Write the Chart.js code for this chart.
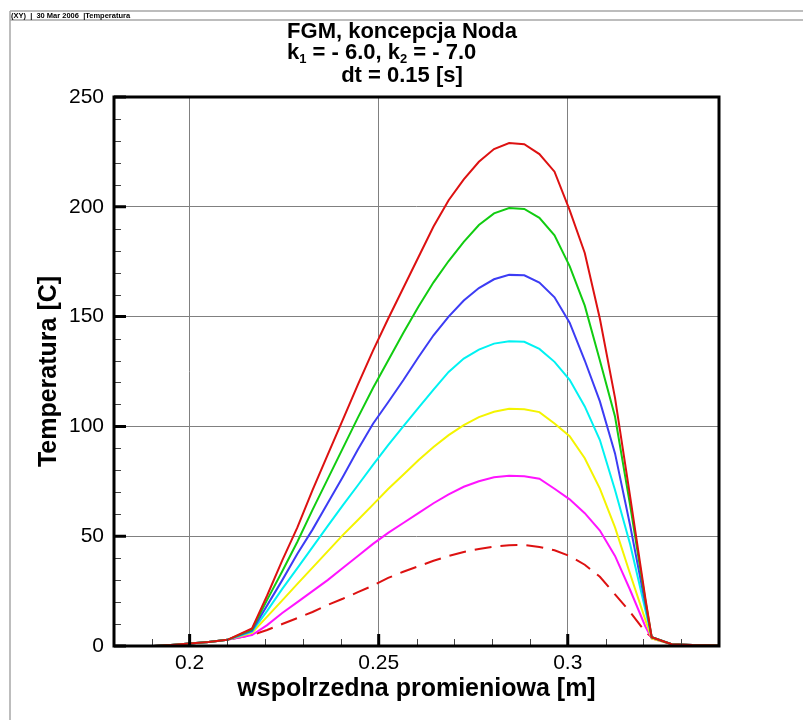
<!DOCTYPE html>
<html>
<head>
<meta charset="utf-8">
<title>Temperatura</title>
<script src="https://cdn.jsdelivr.net/npm/chart.js@4.4.0/dist/chart.umd.min.js"></script>
<style>
  html, body { margin: 0; padding: 0; background: #fff; }
  #wrap { position: relative; width: 803px; height: 720px; }
</style>
</head>
<body>
<div id="wrap"><canvas id="tempChart"></canvas></div>
<script>
const FONT = '"Liberation Sans", Arial, Helvetica, sans-serif';

// wspolrzedna promieniowa [m]
const radius = [0.1905, 0.195, 0.2, 0.205, 0.21,
  0.2165, 0.2205, 0.2245, 0.2285, 0.2325, 0.2365, 0.2405, 0.2445, 0.2485, 0.2525,
  0.2565, 0.2605, 0.2645, 0.2685, 0.2725, 0.2765, 0.2805, 0.2845, 0.2885, 0.2925,
  0.2965, 0.3005, 0.3045, 0.3085, 0.3125, 0.3165, 0.3205,
  0.3222, 0.3275, 0.333, 0.34];

// temperatura [C], kolejne kroki czasowe
const temp1 = [0, 0.4, 1.1, 1.8, 2.8,
  5, 7.3, 10, 12.7, 15.5, 18.7, 21.5, 24.5, 27.5, 31,
  33.8, 36.3, 38.8, 41, 42.8, 44.2, 45.3, 45.9, 46, 45.1,
  43.6, 41, 37, 31.5, 23.5, 15.5, 6.5,
  4, 0.8, 0.4, 0.2];
const temp2 = [0, 0.4, 1.1, 1.8, 2.8,
  5, 9.5, 15, 20, 25, 30, 35.5, 41, 46.5, 51.5,
  56, 60.5, 65, 69, 72.5, 75, 76.8, 77.5, 77.3, 76.2,
  71.6, 66.8, 60.5, 52.6, 41, 25.5, 9,
  3.5, 0.8, 0.4, 0.2];
const temp3 = [0, 0.4, 1.1, 1.8, 2.8,
  6, 13.4, 20.8, 28.3, 35.7, 43.1, 50.5, 57.4, 64.4, 71.5,
  78, 84.6, 90.6, 96, 100.6, 104.2, 106.7, 108, 107.8, 106.5,
  101.3, 95.5, 85.5, 71.7, 54, 32.8, 12,
  3.5, 0.8, 0.4, 0.2];
const temp4 = [0, 0.4, 1.1, 1.8, 2.8,
  6.5, 16, 26, 35.5, 45, 54.6, 64, 73.2, 82.5, 91.5,
  100, 108.4, 116.7, 124.8, 130.9, 135, 137.7, 138.8, 138.5, 135.3,
  129.4, 121.2, 109.1, 93.8, 71, 46.3, 16.6,
  4, 0.8, 0.4, 0.2];
const temp5 = [0, 0.4, 1.1, 1.8, 2.8,
  7, 18.5, 30, 42, 53, 65, 77, 89.5, 101.2, 111,
  121, 131.5, 141.5, 150, 157.3, 163, 167, 169, 168.8, 165.5,
  158.8, 147.2, 130, 111.4, 87.7, 54.9, 19.3,
  4, 0.8, 0.4, 0.2];
const temp6 = [0, 0.4, 1.1, 1.8, 2.8,
  7.5, 21, 34, 47.5, 62, 76, 90, 104, 117.5, 130,
  142.5, 154.5, 165.6, 175.3, 184, 191.7, 197, 199.4, 199, 195,
  187, 173, 155, 130, 104.5, 64, 21,
  4, 0.8, 0.4, 0.2];
const temp7 = [0, 0.4, 1.1, 1.8, 2.8,
  8, 23, 39, 54, 71, 87, 103, 119, 134.5, 149,
  163, 177, 191, 203, 212.5, 220.5, 226.3, 229, 228.5, 224,
  216, 198.5, 179, 149, 113, 68, 22,
  4, 0.8, 0.4, 0.2];

const xTicks = [0.2, 0.25, 0.3];
const yTicks = [0, 50, 100, 150, 200, 250];
const xMinorStep = 0.01;
const yMinorStep = 10;

const headerText = '(XY)  |  30 Mar 2006  |Temperatura';
const titleLine1 = 'FGM, koncepcja Noda';
const titleLine2 = [['k'], ['1', true], [' = - 6.0, k'], ['2', true], [' = - 7.0']];
const titleLine3 = 'dt = 0.15 [s]';

function points(ys) {
  return ys.map((y, i) => ({ x: radius[i], y: y }));
}

function series(ys, color, dash) {
  return {
    data: points(ys),
    borderColor: color,
    borderWidth: 2,
    borderDash: dash || [],
    pointRadius: 0,
    tension: 0,
    fill: false
  };
}

// text with subscripts, drawn left to right from x
function drawRuns(ctx, runs, x, y) {
  runs.forEach(([txt, sub]) => {
    ctx.font = sub ? 'bold 13px ' + FONT : 'bold 22px ' + FONT;
    ctx.fillText(txt, x, sub ? y + 4 : y);
    x += ctx.measureText(txt).width;
  });
}

const framePlugin = {
  id: 'frame',
  beforeDraw(chart) {
    const ctx = chart.ctx;
    ctx.save();
    ctx.fillStyle = '#fff';
    ctx.fillRect(0, 0, chart.width, chart.height);

    // page header strip
    ctx.strokeStyle = '#a8a8a8';
    ctx.lineWidth = 1.5;
    ctx.beginPath();
    ctx.moveTo(10, 11); ctx.lineTo(chart.width, 11);
    ctx.moveTo(10, 20); ctx.lineTo(chart.width, 20);
    ctx.moveTo(10, 11); ctx.lineTo(10, chart.height);
    ctx.stroke();
    ctx.fillStyle = '#000';
    ctx.font = 'bold 7.5px ' + FONT;
    ctx.textBaseline = 'middle';
    ctx.textAlign = 'left';
    ctx.fillText(headerText, 11, 15.5);

    // title block
    ctx.textBaseline = 'alphabetic';
    ctx.font = 'bold 22px ' + FONT;
    ctx.textAlign = 'center';
    ctx.fillText(titleLine1, 402, 37.5);
    ctx.fillText(titleLine3, 402, 81.5);
    ctx.textAlign = 'left';
    drawRuns(ctx, titleLine2, 287, 58.5);
    ctx.restore();
  },
  afterDatasetsDraw(chart) {
    const { ctx, chartArea: a, scales: { x, y } } = chart;
    ctx.save();

    // minor ticks, pointing inward
    ctx.strokeStyle = '#444';
    ctx.lineWidth = 1;
    ctx.beginPath();
    for (let i = Math.ceil(x.min / xMinorStep); i * xMinorStep <= x.max; i++) {
      if (i % 5 === 0) continue;
      const px = Math.round(x.getPixelForValue(i * xMinorStep)) + 0.5;
      ctx.moveTo(px, a.bottom);
      ctx.lineTo(px, a.bottom - 7);
    }
    for (let v = y.min + yMinorStep; v < y.max; v += yMinorStep) {
      if (v % 50 === 0) continue;
      const py = Math.round(y.getPixelForValue(v)) + 0.5;
      ctx.moveTo(a.left, py);
      ctx.lineTo(a.left + 7, py);
    }
    ctx.stroke();

    // major ticks
    ctx.strokeStyle = '#000';
    ctx.lineWidth = 3;
    ctx.beginPath();
    xTicks.forEach(v => {
      const px = x.getPixelForValue(v);
      ctx.moveTo(px, a.bottom);
      ctx.lineTo(px, a.bottom - 12);
    });
    yTicks.forEach(v => {
      const py = y.getPixelForValue(v);
      ctx.moveTo(a.left, py);
      ctx.lineTo(a.left + 12, py);
    });
    ctx.stroke();

    // plot frame
    ctx.lineWidth = 3;
    ctx.strokeRect(a.left, a.top, a.right - a.left, a.bottom - a.top);
    ctx.restore();
  }
};

const ctx = document.getElementById('tempChart').getContext('2d');
const chart = new Chart(ctx, {
  type: 'line',
  data: {
    datasets: [
      series(temp7, '#dd1111'),
      series(temp6, '#11cc11'),
      series(temp5, '#3c3cf4'),
      series(temp4, '#00f2f2'),
      series(temp3, '#f4f400'),
      series(temp2, '#ff14ff'),
      series(temp1, '#dd1111', [17, 9])
    ]
  },
  options: {
    responsive: true,
    maintainAspectRatio: false,
    animation: false,
    layout: { padding: { top: 97, right: 84, left: 0, bottom: 0 } },
    plugins: {
      legend: { display: false },
      tooltip: { enabled: false }
    },
    scales: {
      x: {
        type: 'linear',
        min: 0.18,
        max: 0.34,
        afterBuildTicks: scale => { scale.ticks = xTicks.map(v => ({ value: v })); },
        afterFit: scale => { scale.height = 74; },
        border: { display: false },
        grid: { color: '#808080', lineWidth: 1, drawTicks: false },
        ticks: {
          color: '#000',
          padding: 5,
          font: { family: FONT, size: 21 },
          callback: v => String(v)
        },
        title: {
          display: true,
          text: 'wspolrzedna promieniowa [m]',
          color: '#000',
          font: { family: FONT, size: 25, weight: 'bold' },
          padding: { top: 0, bottom: 16 }
        }
      },
      y: {
        min: 0,
        max: 250,
        afterBuildTicks: scale => { scale.ticks = yTicks.map(v => ({ value: v })); },
        afterFit: scale => { scale.width = 114; },
        border: { display: false },
        grid: { color: '#808080', lineWidth: 1, drawTicks: false },
        ticks: {
          color: '#000',
          padding: 10,
          font: { family: FONT, size: 21 }
        },
        title: {
          display: true,
          text: 'Temperatura [C]',
          color: '#000',
          font: { family: FONT, size: 25, weight: 'bold' },
          padding: { top: 34, bottom: 0 }
        }
      }
    }
  },
  plugins: [framePlugin]
});
</script>
</body>
</html>
